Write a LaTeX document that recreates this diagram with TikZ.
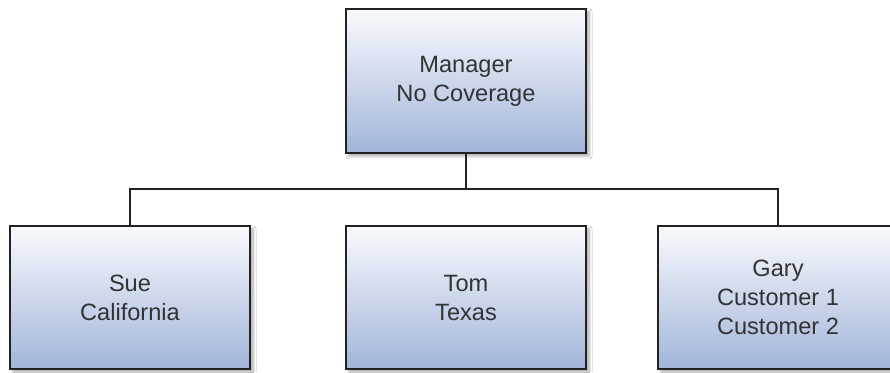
\documentclass[tikz,border=0pt]{standalone}
\usepackage{fontspec}
\setmainfont{Liberation Sans}
\usetikzlibrary{shadows.blur}
\definecolor{boxtop}{HTML}{F9FAFD}
\definecolor{boxbot}{HTML}{A1B5DA}
\definecolor{boxline}{HTML}{222222}
\definecolor{txt}{HTML}{333333}
\tikzset{
  orgbox/.style={draw=boxline, line width=1.8pt, top color=boxtop, bottom color=boxbot,
    minimum width=240pt, minimum height=144pt, inner sep=0pt, align=center,
    text=txt, font=\fontsize{23.6pt}{29pt}\selectfont,
    blur shadow={shadow xshift=3pt, shadow yshift=-3pt, shadow blur steps=6, shadow blur radius=3pt, shadow opacity=35}},
  link/.style={draw=boxline, line width=1.8pt}
}
\begin{document}
\begin{tikzpicture}[x=1pt,y=1pt]
\useasboundingbox (0,0) rectangle (890,372);
\fill[white] (0,0) rectangle (890,372);
\node[orgbox] (mgr) at (466,291) {Manager\\No Coverage};
\node[orgbox, minimum height=143pt] (sue) at (130,74.5) {Sue\\California};
\node[orgbox, minimum height=143pt] (tom) at (466,74.5) {Tom\\Texas};
\node[orgbox, minimum height=143pt] (gary) at (778,74.5) {Gary\\Customer 1\\Customer 2};
\coordinate (bus) at (466,183);
\draw[link] (mgr.south) -- (bus);
\draw[link] (bus) -| (sue.north);
\draw[link] (bus) -| (gary.north);
\end{tikzpicture}
\end{document}
